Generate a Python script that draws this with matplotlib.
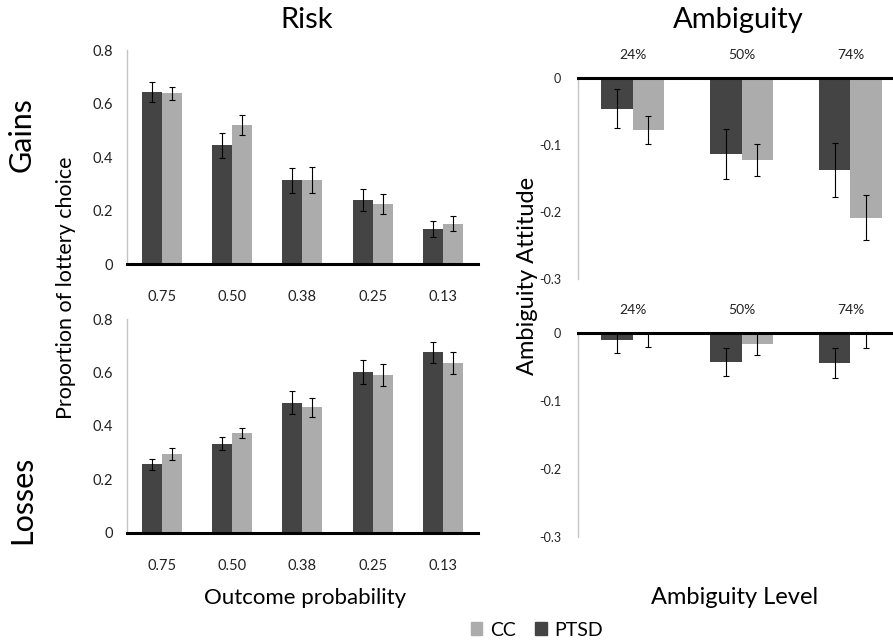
import numpy as np
import matplotlib
matplotlib.use("Agg")
import matplotlib.pyplot as plt
from matplotlib.patches import Patch

plt.rcParams['font.family'] = ['Lato', 'DejaVu Sans']

# Risk panel data
prob_labels = ["0.75", "0.50", "0.38", "0.25", "0.13"]
gains_ptsd = [0.644, 0.444, 0.313, 0.240, 0.130]
gains_ptsd_err = [0.037, 0.047, 0.047, 0.040, 0.030]
gains_cc = [0.638, 0.520, 0.315, 0.225, 0.150]
gains_cc_err = [0.025, 0.037, 0.048, 0.037, 0.028]
losses_ptsd = [0.255, 0.333, 0.487, 0.600, 0.675]
losses_ptsd_err = [0.020, 0.024, 0.042, 0.045, 0.040]
losses_cc = [0.294, 0.373, 0.469, 0.590, 0.635]
losses_cc_err = [0.022, 0.020, 0.037, 0.040, 0.040]

# Ambiguity panel data
amb_labels = ["24%", "50%", "74%"]
amb_gain_ptsd = [-0.046, -0.113, -0.137]
amb_gain_ptsd_err = [0.029, 0.037, 0.040]
amb_gain_cc = [-0.078, -0.122, -0.208]
amb_gain_cc_err = [0.021, 0.024, 0.034]
amb_loss_ptsd = [-0.011, -0.043, -0.044]
amb_loss_ptsd_err = [0.019, 0.021, 0.022]
amb_loss_cc = [-0.004, -0.017, -0.003]
amb_loss_cc_err = [0.017, 0.016, 0.019]

PTSD_COL = "#444444"
CC_COL = "#acacac"
W = 0.285
TICK_FS = 10.5

fig = plt.figure(figsize=(8.93, 6.43), dpi=100)


def risk_panel(rect, ptsd, ptsd_err, cc, cc_err):
    ax = fig.add_axes(rect)
    x = np.arange(len(prob_labels))
    ek = dict(ecolor="black", elinewidth=0.8, capsize=2.5, capthick=0.8)
    ax.bar(x - W / 2, ptsd, W, color=PTSD_COL, yerr=ptsd_err, error_kw=ek)
    ax.bar(x + W / 2, cc, W, color=CC_COL, yerr=cc_err, error_kw=ek)
    ax.set_xlim(-0.5, len(prob_labels) - 0.5)
    ax.set_ylim(0, 0.8)
    ax.set_yticks([0, 0.2, 0.4, 0.6, 0.8])
    ax.set_yticklabels(["0", "0.2", "0.4", "0.6", "0.8"])
    ax.set_xticks(x)
    ax.set_xticklabels(prob_labels)
    ax.tick_params(axis="x", length=0, pad=19, labelsize=TICK_FS, colors="#222222")
    ax.tick_params(axis="y", length=0, pad=10, labelsize=TICK_FS, colors="#222222")
    for s in ["top", "right"]:
        ax.spines[s].set_visible(False)
    ax.spines["left"].set_color("#c4c4c4")
    ax.spines["left"].set_linewidth(1.0)
    ax.spines["bottom"].set_color("black")
    ax.spines["bottom"].set_linewidth(2.2)
    return ax


def amb_panel(rect, ptsd, ptsd_err, cc, cc_err):
    ax = fig.add_axes(rect)
    x = np.arange(len(amb_labels))
    ek = dict(ecolor="black", elinewidth=0.8, capsize=2.5, capthick=0.8)
    ax.bar(x - W / 2, ptsd, W, color=PTSD_COL, yerr=ptsd_err, error_kw=ek)
    ax.bar(x + W / 2, cc, W, color=CC_COL, yerr=cc_err, error_kw=ek)
    ax.set_xlim(-0.5, 2.39)
    ax.set_ylim(-0.3, 0)
    ax.set_yticks([-0.3, -0.2, -0.1, 0])
    ax.set_yticklabels(["-0.3", "-0.2", "-0.1", "0"])
    ax.xaxis.tick_top()
    ax.set_xticks(x)
    ax.set_xticklabels(amb_labels)
    ax.tick_params(axis="x", length=0, pad=12, labelsize=TICK_FS - 0.5, colors="#222222")
    ax.tick_params(axis="y", length=0, pad=12, labelsize=TICK_FS - 1.5, colors="#222222")
    for s in ["bottom", "right"]:
        ax.spines[s].set_visible(False)
    ax.spines["left"].set_color("#c4c4c4")
    ax.spines["left"].set_linewidth(1.0)
    ax.spines["top"].set_color("black")
    ax.spines["top"].set_linewidth(2.2)
    return ax


risk_panel([0.1422, 0.5894, 0.393, 0.3328], gains_ptsd, gains_ptsd_err, gains_cc, gains_cc_err)
risk_panel([0.1422, 0.1718, 0.393, 0.332], losses_ptsd, losses_ptsd_err, losses_cc, losses_cc_err)
amb_panel([0.6473, 0.5656, 0.3527, 0.3135], amb_gain_ptsd, amb_gain_ptsd_err, amb_gain_cc, amb_gain_cc_err)
amb_panel([0.6473, 0.1649, 0.3527, 0.3177], amb_loss_ptsd, amb_loss_ptsd_err, amb_loss_cc, amb_loss_cc_err)

# titles and labels
fig.text(307 / 893, 1 - 20 / 643, "Risk", fontsize=21, ha="center", va="center")
fig.text(738 / 893, 1 - 20 / 643, "Ambiguity", fontsize=21, ha="center", va="center")
fig.text(22 / 893, 1 - 135 / 643, "Gains", fontsize=22, rotation=90, ha="center", va="center")
fig.text(22 / 893, 1 - 500 / 643, "Losses", fontsize=22, rotation=90, ha="center", va="center")
fig.text(66 / 893, 1 - 288 / 643, "Proportion of lottery choice", fontsize=15.5,
         rotation=90, ha="center", va="center")
fig.text(527 / 893, 1 - 276 / 643, "Ambiguity Attitude", fontsize=17,
         rotation=90, ha="center", va="center")
fig.text(305 / 893, 1 - 598 / 643, "Outcome probability", fontsize=16, ha="center", va="center")
fig.text(735 / 893, 1 - 598 / 643, "Ambiguity Level", fontsize=17, ha="center", va="center")

handles = [Patch(color=CC_COL, label="CC"), Patch(color=PTSD_COL, label="PTSD")]
fig.legend(handles=handles, loc="center", bbox_to_anchor=(537 / 893, 1 - 630 / 643),
           ncol=2, frameon=False, fontsize=14, handlelength=0.6, handleheight=0.6,
           handletextpad=0.4, columnspacing=1.0, borderaxespad=0)

fig.savefig("out.png", dpi=100)
